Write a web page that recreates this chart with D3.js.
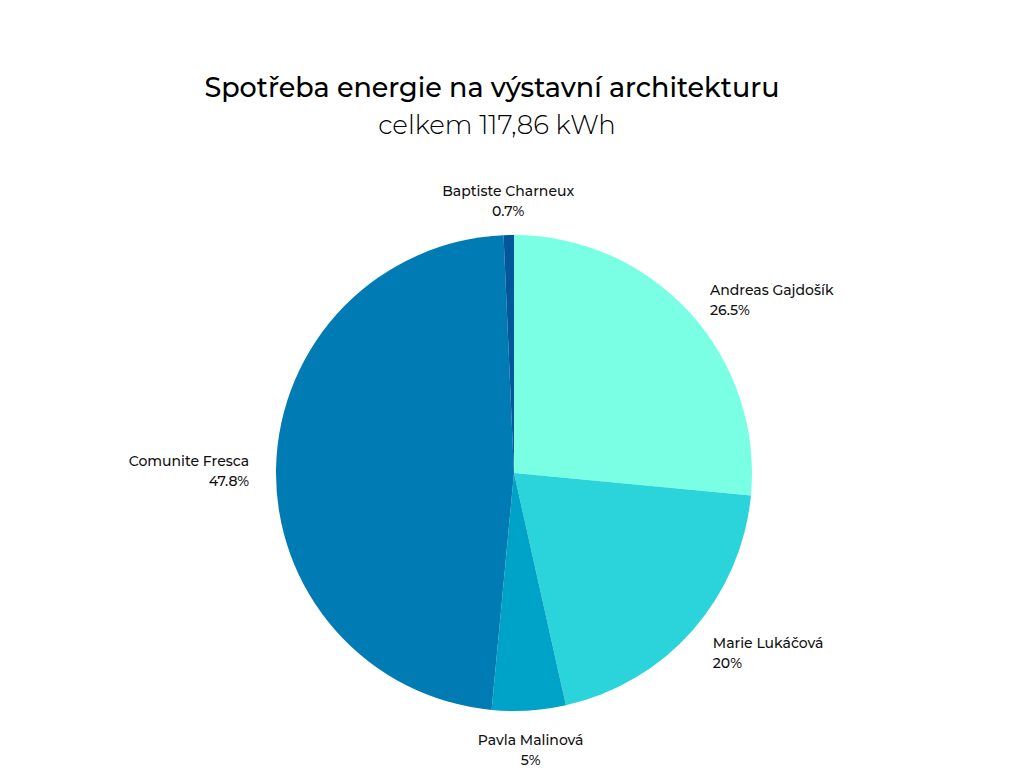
<!DOCTYPE html>
<html><head><meta charset="utf-8">
<script src="https://cdn.jsdelivr.net/npm/d3@7"></script>
<style>body{margin:0;background:#fff}</style>
</head><body>
<svg id="c" width="1024" height="768"></svg>
<script>
var names = ["Andreas Gajdošík", "Marie Lukáčová", "Pavla Malinová", "Comunite Fresca", "Baptiste Charneux"];
var values = [26.5, 20, 5, 47.8, 0.7];
var labels = ["26.5%", "20%", "5%", "47.8%", "0.7%"];
var colors = ["#7affe4", "#2bd4db", "#00a3c8", "#007bb4", "#02579b"];

var svg = d3.select("#c");
var font = "Montserrat, 'Noto Sans', 'DejaVu Sans', sans-serif";
svg.append("text").attr("x", 492).attr("y", 97).attr("text-anchor", "middle")
    .style("font-family", font).style("font-size", "27px").style("font-weight", "500")
    .text("Spotřeba energie na výstavní architekturu");
svg.append("text").attr("x", 497).attr("y", 134).attr("text-anchor", "middle")
    .style("font-family", font).style("font-size", "26px").style("font-weight", "300")
    .text("celkem 117,86 kWh");

var cx = 514, cy = 473, r = 238, lr = 265;
var g = svg.append("g").attr("transform", "translate(" + cx + "," + cy + ")");
var pie = d3.pie().sort(null).value(function (d) { return d; });
var arcs = pie(values);
var arc = d3.arc().innerRadius(0).outerRadius(r);

g.selectAll("path").data(arcs).enter().append("path")
    .attr("d", arc)
    .attr("fill", function (d, i) { return colors[i]; });

var lab = g.selectAll(".lab").data(arcs).enter().append("text")
    .attr("class", "lab")
    .style("font-family", font).style("font-size", "14px").style("font-weight", "500")
    .attr("fill", "#111")
    .each(function (d, i) {
        var a = (d.startAngle + d.endAngle) / 2;
        var s = Math.sin(a), c = Math.cos(a);
        var x = s * lr, y = -c * lr;
        var anchor = Math.abs(s) < 0.3 ? "middle" : (s > 0 ? "start" : "end");
        if (Math.abs(s) < 0.3) y = c > 0 ? y - 12 : y + 8;
        var t = d3.select(this).attr("text-anchor", anchor);
        t.append("tspan").attr("x", x).attr("y", y).text(names[i]);
        t.append("tspan").attr("x", x).attr("y", y + 20).text(labels[i]);
    });
</script>
</body></html>
